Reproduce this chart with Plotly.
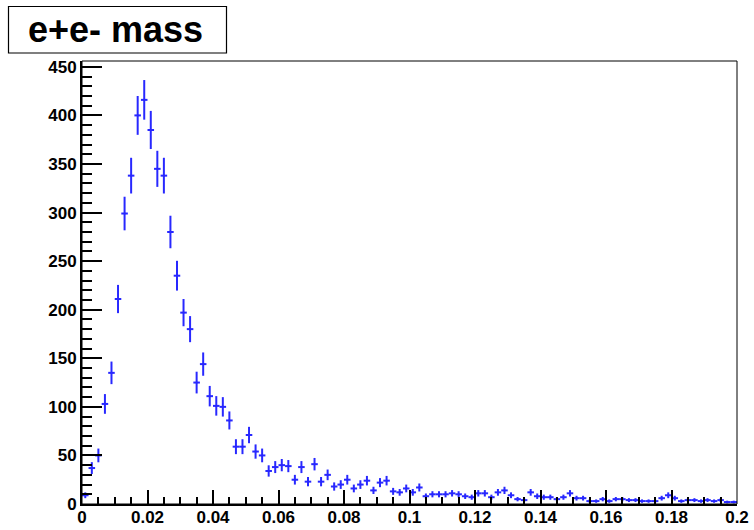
import numpy as np
import plotly.graph_objects as go

# Histogram of e+e- invariant mass: 100 bins from 0 to 0.2
x_min = 0.0
x_max = 0.2
n_bins = 100

counts = [
    9, 37, 50, 103, 135, 211, 299, 338, 400, 416,
    385, 345, 338, 280, 235, 197, 180, 125, 144, 111,
    101, 100, 86, 59, 59, 71, 54, 50, 34, 38,
    40, 39, 25, 38, 23, 41, 23, 30, 18, 20,
    25, 16, 20, 24, 14, 22, 24, 13, 12, 16,
    12, 17, 8, 10, 10, 10, 11, 10, 8, 7,
    11, 11, 7, 12, 14, 9, 5, 4, 12, 8,
    7, 7, 5, 7, 11, 6, 6, 3, 3, 5,
    3, 5, 5, 4, 4, 3, 3, 3, 6, 9,
    6, 3, 4, 4, 3, 4, 3, 4, 2, 2,
]

title_text = "e+e- mass"
x_ticks = [0, 0.02, 0.04, 0.06, 0.08, 0.1, 0.12, 0.14, 0.16, 0.18, 0.2]
x_tick_labels = ["0", "0.02", "0.04", "0.06", "0.08", "0.1", "0.12", "0.14", "0.16", "0.18", "0.2"]
y_ticks = [0, 50, 100, 150, 200, 250, 300, 350, 400, 450]

bin_width = (x_max - x_min) / n_bins
centers = x_min + (np.arange(n_bins) + 0.5) * bin_width
counts_arr = np.array(counts, dtype=float)
errors = np.sqrt(counts_arr)  # Poisson errors per bin

marker_color = "rgb(40,40,255)"

fig = go.Figure()
fig.add_trace(go.Scatter(
    x=centers,
    y=counts_arr,
    mode="markers",
    marker=dict(size=2, color=marker_color),
    error_y=dict(type="data", array=errors, visible=True,
                 thickness=2, width=0, color=marker_color),
    error_x=dict(type="constant", value=bin_width / 2, visible=True,
                 thickness=2, width=0, color=marker_color),
    showlegend=False,
    hoverinfo="x+y",
))

W, H = 754, 530
m_l, m_r, m_t, m_b = 82, 17, 61, 26
pw = W - m_l - m_r
ph = H - m_t - m_b


def px_x(p):
    return (p - m_l) / pw


def px_y(p):
    return (H - m_b - p) / ph


tick_font = dict(family="Liberation Sans, Arial, sans-serif", size=17, color="black",
                 weight="bold")

fig.update_layout(
    width=W,
    height=H,
    margin=dict(l=m_l, r=m_r, t=m_t, b=m_b, pad=0),
    paper_bgcolor="white",
    plot_bgcolor="white",
    xaxis=dict(
        range=[x_min, x_max],
        automargin=False,
        tickmode="array",
        tickvals=x_ticks,
        ticktext=x_tick_labels,
        ticks="inside",
        ticklen=14,
        tickwidth=1.5,
        tickcolor="black",
        ticklabelstandoff=-3,
        showgrid=False,
        zeroline=False,
        showline=True,
        linecolor="black",
        linewidth=2,
        tickfont=tick_font,
        minor=dict(dtick=0.005, ticks="inside", ticklen=7, tickwidth=1.5,
                   tickcolor="black", showgrid=False),
    ),
    yaxis=dict(
        range=[0, 456],
        automargin=False,
        tickmode="array",
        tickvals=y_ticks,
        ticks="inside",
        ticklen=20,
        tickwidth=1.5,
        tickcolor="black",
        showgrid=False,
        zeroline=False,
        showline=True,
        linecolor="black",
        linewidth=2,
        tickfont=tick_font,
        minor=dict(dtick=10, ticks="inside", ticklen=10, tickwidth=1.5,
                   tickcolor="black", showgrid=False),
    ),
    shapes=[
        # frame around the plotting area
        dict(type="rect", xref="paper", yref="paper", x0=0, y0=0, x1=1, y1=1,
             line=dict(color="black", width=1), fillcolor="rgba(0,0,0,0)", layer="above"),
        # title box
        dict(type="rect", xref="paper", yref="paper",
             x0=px_x(8.5), x1=px_x(226.5), y0=px_y(53), y1=px_y(6.5),
             line=dict(color="black", width=1.2), fillcolor="white"),
    ],
    annotations=[
        dict(text="<b>" + title_text + "</b>", xref="paper", yref="paper",
             x=px_x(115), y=px_y(30), xanchor="center", yanchor="middle",
             showarrow=False,
             font=dict(family="Liberation Sans, Arial, sans-serif", size=36, color="black")),
    ],
)

fig.write_html("out.html")
